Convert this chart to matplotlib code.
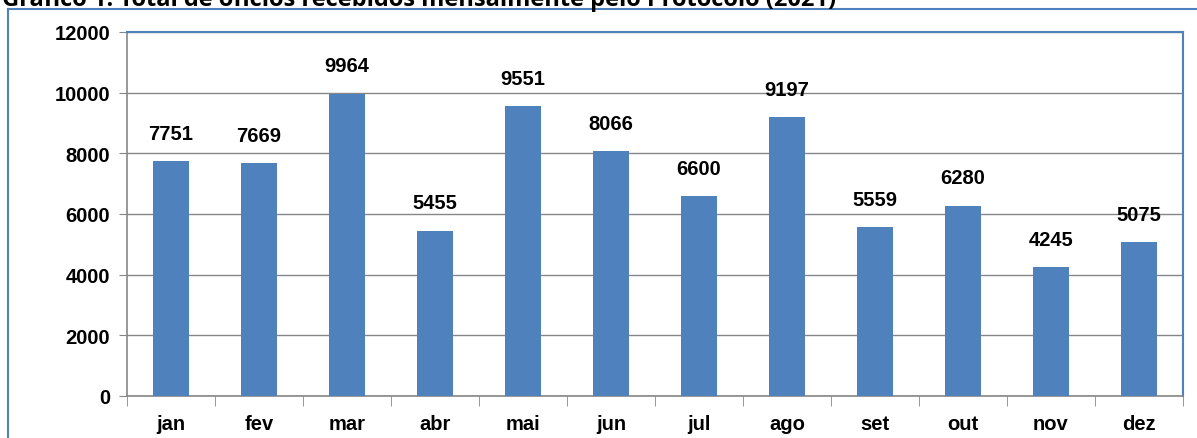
import matplotlib.pyplot as plt
from matplotlib.lines import Line2D

months = ["jan", "fev", "mar", "abr", "mai", "jun", "jul", "ago", "set", "out", "nov", "dez"]
totals = [7751, 7669, 9964, 5455, 9551, 8066, 6600, 9197, 5559, 6280, 4245, 5075]
yticks = [0, 2000, 4000, 6000, 8000, 10000, 12000]
title = "Gráfico 1: Total de ofícios recebidos mensalmente pelo Protocolo (2021)"

W, H = 1197, 439
fig = plt.figure(figsize=(W / 100, H / 100), dpi=100)
ax = fig.add_axes([127 / W, 1 - 397 / H, (1183 - 127) / W, (397 - 33) / H])

x = list(range(len(months)))
ax.bar(x, totals, width=0.4, color="#4F81BD", zorder=3)
for xi, v in zip(x, totals):
    ax.annotate(str(v), (xi, v), xytext=(0, 20), textcoords="offset points",
                ha="center", va="center", fontsize=14.5, fontweight="bold",
                family="Liberation Sans")

ax.set_xlim(-0.5, len(months) - 0.5)
ax.set_ylim(0, 12000)
ax.set_yticks(yticks)
ax.set_yticklabels([str(t) for t in yticks], fontsize=14.5, fontweight="bold", family="Liberation Sans")
ax.set_xticks(x)
ax.set_xticklabels(months, fontsize=14.5, fontweight="bold", family="Liberation Sans")
ax.tick_params(axis="x", length=0, pad=13)
ax.set_xticks([i - 0.5 for i in range(len(months) + 1)], minor=True)
ax.tick_params(axis="x", which="minor", length=7, color="#868686", direction="out")
ax.tick_params(axis="y", length=6, color="#868686", pad=6)
ax.grid(axis="y", color="#868686", linewidth=1, zorder=0)

for side in ["left", "bottom"]:
    ax.spines[side].set_color("#868686")
    ax.spines[side].set_linewidth(1.2)
for side in ["top", "right"]:
    ax.spines[side].set_color("#4F81BD")
    ax.spines[side].set_linewidth(1.5)

# outer frame
fig.add_artist(Line2D([8 / W, 1.0], [1 - 10 / H, 1 - 10 / H], color="#4F81BD", lw=1.5))
fig.add_artist(Line2D([8 / W, 8 / W], [0, 1 - 10 / H], color="#4F81BD", lw=1.5))

fig.text(2 / W, 1 - 6 / H, title, ha="left", va="baseline", fontsize=17,
         fontweight="bold", family="Open Sans")

fig.savefig("out.png", dpi=100)
